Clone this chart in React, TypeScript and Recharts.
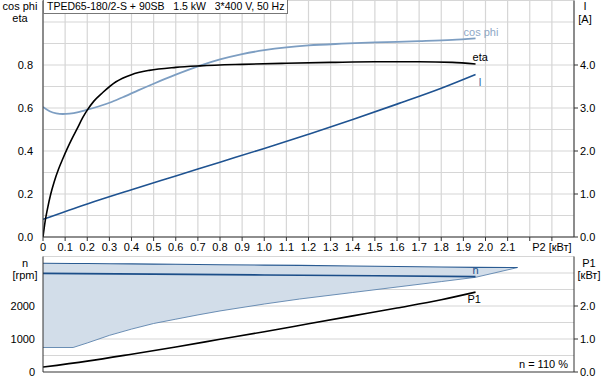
import React from 'react';
import { ComposedChart, Line, Area, XAxis, YAxis, CartesianGrid, ReferenceDot } from 'recharts';

// ---- top chart data (x = P2 [kW]) ----
const etaP2 = [0, 0.01, 0.02, 0.035, 0.05, 0.07, 0.09, 0.11, 0.13, 0.155, 0.18, 0.2, 0.23, 0.27, 0.33, 0.4, 0.48, 0.6, 0.71, 0.9, 1.1, 1.3, 1.5, 1.7, 1.85, 1.955];
const etaVal = [0, 0.075, 0.13, 0.2, 0.255, 0.315, 0.365, 0.412, 0.455, 0.505, 0.556, 0.59, 0.632, 0.672, 0.722, 0.755, 0.775, 0.789, 0.796, 0.803, 0.808, 0.812, 0.815, 0.815, 0.812, 0.805];

const cosP2 = [0, 0.03, 0.06, 0.09, 0.12, 0.16, 0.2, 0.25, 0.31, 0.37, 0.43, 0.5, 0.6, 0.71, 0.8, 0.9, 1.0, 1.1, 1.2, 1.35, 1.5, 1.7, 1.85, 1.955];
const cosVal = [0.605, 0.585, 0.575, 0.572, 0.574, 0.581, 0.592, 0.607, 0.628, 0.654, 0.682, 0.713, 0.755, 0.797, 0.826, 0.851, 0.869, 0.882, 0.891, 0.899, 0.905, 0.911, 0.917, 0.924];

const curP2 = [0, 0.2, 0.4, 0.6, 0.8, 1.0, 1.2, 1.4, 1.6, 1.8, 1.955];
const curVal = [0.41, 0.77, 1.1, 1.42, 1.74, 2.06, 2.39, 2.73, 3.09, 3.46, 3.78];

// ---- bottom chart data ----
const nP2 = [0, 0.5, 1.0, 1.5, 1.955];
const nVal = [2990, 2965, 2940, 2915, 2890];

const p1P2 = [0, 0.2, 0.4, 0.6, 0.8, 1.0, 1.2, 1.4, 1.6, 1.8, 1.955];
const p1Val = [0.15, 0.33, 0.54, 0.76, 0.99, 1.22, 1.46, 1.7, 1.94, 2.19, 2.42];

const envP2 = [0, 0.136, 0.2, 0.3, 0.4, 0.5, 0.6, 0.7, 0.8, 1.0, 1.16, 1.4, 1.6, 1.8, 1.955, 2.145];
const envLow = [742, 742, 880, 1110, 1300, 1470, 1600, 1730, 1850, 2060, 2212, 2410, 2575, 2740, 2869, 3165];
const envHigh = [3295, 3290, 3288, 3282, 3276, 3270, 3264, 3258, 3252, 3240, 3230, 3210, 3195, 3180, 3170, 3165];

// ---- axis ticks ----
const p2Ticks = Array.from({ length: 24 }, (_, i) => i / 10);
const p2GridTop = Array.from({ length: 25 }, (_, i) => i / 10);
const p2GridBottom = Array.from({ length: 13 }, (_, i) => (i * 2) / 10);
const effTicks = [0, 0.2, 0.4, 0.6, 0.8];
const effGrid = Array.from({ length: 12 }, (_, i) => i / 10);
const curTicks = [0, 1, 2, 3, 4];
const rpmTicks = [0, 1000, 2000];
const rpmGrid = [0, 500, 1000, 1500, 2000, 2500, 3000, 3500];
const p1Ticks = [0, 1, 2];

const zip = (xs: number[], ys: number[]) => xs.map((x, i) => ({ x, v: ys[i] }));
const etaData = zip(etaP2, etaVal);
const cosData = zip(cosP2, cosVal);
const curData = zip(curP2, curVal);
const nData = zip(nP2, nVal);
const p1Data = zip(p1P2, p1Val);
const envData = envP2.map((x, i) => ({ x, low: envLow[i], high: envHigh[i] }));

const FONT = 'Liberation Sans, Arial, sans-serif';
const tickStyle = { fontSize: 11, fill: '#000', fontFamily: FONT };
const GRID = '#d6d6d6';
const AXIS = '#333';

const last = <T,>(a: T[]) => a[a.length - 1];

const endLabel = (text: string, color: string, dx: number, dy: number) => ({
  content: (p: any) => {
    const vb = p.viewBox || {};
    const x = (vb.x || 0) + (vb.width || 0) / 2 + dx;
    const y = (vb.y || 0) + (vb.height || 0) / 2 + dy;
    return (
      <text x={x} y={y} fontSize={11} fontFamily={FONT} fill={color}>
        {text}
      </text>
    );
  },
});

const fmtP2 = (v: number) => {
  const r = Math.round(v * 10);
  if (r === 0) return '0';
  if (r === 22) return '';
  if (r === 23) return 'P2 [кВт]';
  return (r / 10).toFixed(1);
};

export default function App() {
  return (
    <div style={{ position: 'absolute', left: 0, top: 0, width: 606, height: 381, background: '#fff', fontFamily: FONT }}>
      <div style={{ position: 'absolute', left: 0, top: 0 }}>
        <ComposedChart width={606} height={256} margin={{ top: 0.5, right: 0, bottom: 0, left: 0 }}>
          <CartesianGrid
            xAxisId="x"
            yAxisId="eff"
            stroke={GRID}
            strokeWidth={1.2}
            verticalValues={p2GridTop}
            horizontalValues={effGrid}
          />
          <XAxis
            xAxisId="x"
            type="number"
            dataKey="x"
            domain={[0, 2.4]}
            ticks={p2Ticks}
            interval={0}
            tickFormatter={fmtP2}
            height={19}
            tickSize={4}
            tickMargin={2}
            tick={tickStyle}
            stroke={AXIS}
            allowDataOverflow
          />
          <YAxis
            yAxisId="eff"
            orientation="left"
            type="number"
            domain={[0, 1.1]}
            ticks={effTicks}
            interval={0}
            tickFormatter={(v: number) => v.toFixed(1)}
            width={43}
            tickLine={false}
            tickSize={0}
            tickMargin={10}
            tick={tickStyle}
            stroke={AXIS}
            allowDataOverflow
          />
          <YAxis
            yAxisId="cur"
            orientation="right"
            type="number"
            domain={[0, 5.5]}
            ticks={curTicks}
            interval={0}
            tickFormatter={(v: number) => v.toFixed(1)}
            width={32}
            tickSize={4}
            tickMargin={2}
            tick={tickStyle}
            stroke={AXIS}
            allowDataOverflow
          />
          <Line xAxisId="x" yAxisId="eff" data={cosData} dataKey="v" type="monotone" stroke="#7d9ec2" strokeWidth={1.8} dot={false} isAnimationActive={false} />
          <Line xAxisId="x" yAxisId="cur" data={curData} dataKey="v" type="monotone" stroke="#1f5391" strokeWidth={1.6} dot={false} isAnimationActive={false} />
          <Line xAxisId="x" yAxisId="eff" data={etaData} dataKey="v" type="monotone" stroke="#000" strokeWidth={1.6} dot={false} isAnimationActive={false} />
          <ReferenceDot xAxisId="x" yAxisId="eff" x={last(cosP2)} y={last(cosVal)} r={0} fill="none" stroke="none" label={endLabel('cos phi', '#8ea8c6', -12, -2)} />
          <ReferenceDot xAxisId="x" yAxisId="eff" x={last(etaP2)} y={last(etaVal)} r={0} fill="none" stroke="none" label={endLabel('eta', '#000', -3, -3)} />
          <ReferenceDot xAxisId="x" yAxisId="cur" x={last(curP2)} y={last(curVal)} r={0} fill="none" stroke="none" label={endLabel('I', '#3d6ea6', 3, 12)} />
        </ComposedChart>
      </div>

      <div style={{ position: 'absolute', left: 0, top: 250 }}>
        <ComposedChart width={606} height={131} margin={{ top: 6.5, right: 0, bottom: 0, left: 0 }}>
          <CartesianGrid
            xAxisId="x"
            yAxisId="rpm"
            stroke={GRID}
            strokeWidth={1.2}
            verticalValues={p2GridBottom}
            horizontalValues={rpmGrid}
          />
          <XAxis
            xAxisId="x"
            type="number"
            dataKey="x"
            domain={[0, 2.4]}
            ticks={p2GridBottom}
            interval={0}
            tick={false}
            tickLine={false}
            height={9}
            stroke="#9a9a9a"
            strokeWidth={2}
            allowDataOverflow
          />
          <YAxis
            yAxisId="rpm"
            orientation="left"
            type="number"
            domain={[0, 3500]}
            ticks={rpmTicks}
            interval={0}
            width={43}
            tickLine={false}
            tickSize={0}
            tickMargin={8}
            tick={tickStyle}
            stroke={AXIS}
            allowDataOverflow
          />
          <YAxis
            yAxisId="p1"
            orientation="right"
            type="number"
            domain={[0, 3.5]}
            ticks={p1Ticks}
            interval={0}
            tickFormatter={(v: number) => v.toFixed(1)}
            width={32}
            tickSize={4}
            tickMargin={2}
            tick={tickStyle}
            stroke={AXIS}
            allowDataOverflow
          />
          <Area
            xAxisId="x"
            yAxisId="rpm"
            data={envData}
            dataKey={(d: any) => [d.low, d.high]}
            type="linear"
            fill="#d2dde9"
            fillOpacity={1}
            stroke="none"
            isAnimationActive={false}
          />
          <Line xAxisId="x" yAxisId="rpm" data={envData} dataKey="low" type="linear" stroke="#5b82ad" strokeWidth={0.9} dot={false} isAnimationActive={false} />
          <Line xAxisId="x" yAxisId="rpm" data={envData} dataKey="high" type="linear" stroke="#2a5b92" strokeWidth={1.1} dot={false} isAnimationActive={false} />
          <Line xAxisId="x" yAxisId="rpm" data={nData} dataKey="v" type="linear" stroke="#1b4d88" strokeWidth={1.6} dot={false} isAnimationActive={false} />
          <Line xAxisId="x" yAxisId="p1" data={p1Data} dataKey="v" type="monotone" stroke="#000" strokeWidth={1.6} dot={false} isAnimationActive={false} />
          <ReferenceDot xAxisId="x" yAxisId="rpm" x={last(nP2)} y={last(nVal)} r={0} fill="none" stroke="none" label={endLabel('n', '#1b4d88', -3, -3)} />
          <ReferenceDot xAxisId="x" yAxisId="p1" x={last(p1P2)} y={last(p1Val)} r={0} fill="none" stroke="none" label={endLabel('P1', '#000', -8, 11)} />
        </ComposedChart>
      </div>

      <svg width={606} height={381} style={{ position: 'absolute', left: 0, top: 0, pointerEvents: 'none' }}>
        <g fontFamily={FONT} fontSize={11} fill="#000">
          <text x={20} y={10} textAnchor="middle">cos phi</text>
          <text x={20} y={22} textAnchor="middle">eta</text>
          <text x={585} y={10} textAnchor="middle">I</text>
          <text x={585} y={23} textAnchor="middle">[A]</text>
          <text x={25} y={267} textAnchor="middle">n</text>
          <text x={25} y={279} textAnchor="middle">[rpm]</text>
          <text x={589} y={267} textAnchor="middle">P1</text>
          <text x={589} y={279} textAnchor="middle">[кВт]</text>
          <text x={568} y={368} textAnchor="end">n = 110 %</text>
        </g>
      </svg>

      <div
        style={{
          position: 'absolute',
          left: 43,
          top: 0,
          height: 13,
          lineHeight: '13px',
          border: '1px solid #777',
          borderTop: 'none',
          background: '#fff',
          fontSize: 10.5,
          padding: '0 3px',
          whiteSpace: 'pre',
          color: '#000',
        }}
      >
        {'TPED65-180/2-S + 90SB   1.5 kW   3*400 V, 50 Hz'}
      </div>
    </div>
  );
}
